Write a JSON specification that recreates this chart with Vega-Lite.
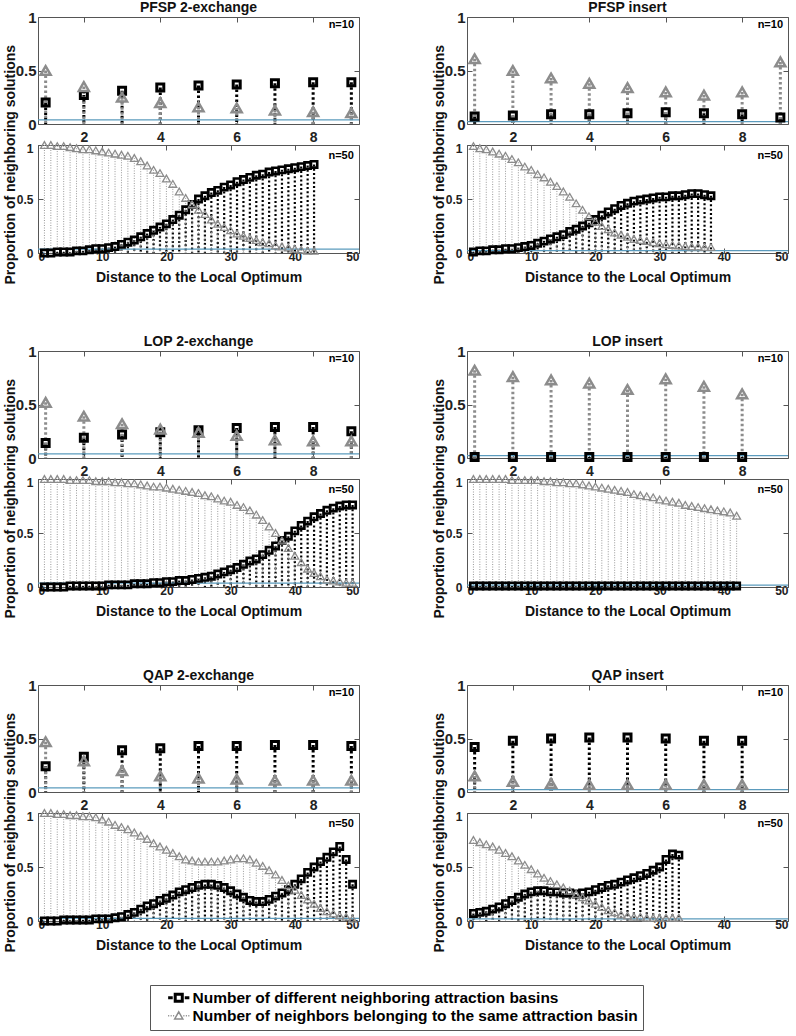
{
"$schema": "https://vega.github.io/schema/vega-lite/v6.json",
"padding": {"left": 3, "top": 0, "right": 5, "bottom": 5},
"config": {
  "font": "Liberation Sans",
  "view": {"stroke": "#555", "strokeWidth": 1},
  "title": {"fontSize": 14, "fontWeight": "bold", "color": "#111"},
  "axis": {"domain": false, "grid": false, "ticks": true, "tickSize": -5, "tickColor": "#555", "labelFontWeight": "bold", "labelColor": "#222", "titleFontWeight": "bold", "titleColor": "#111"}
},
"datasets": {
"pfsp2_10": [{"d":1,"diff":0.20,"same":0.50},{"d":2,"diff":0.27,"same":0.35},{"d":3,"diff":0.31,"same":0.25},{"d":4,"diff":0.34,"same":0.20},{"d":5,"diff":0.36,"same":0.16},{"d":6,"diff":0.37,"same":0.15},{"d":7,"diff":0.38,"same":0.13},{"d":8,"diff":0.39,"same":0.115},{"d":9,"diff":0.39,"same":0.105}],
"pfspi_10": [{"d":1,"diff":0.07,"same":0.61},{"d":2,"diff":0.08,"same":0.50},{"d":3,"diff":0.09,"same":0.43},{"d":4,"diff":0.09,"same":0.38},{"d":5,"diff":0.10,"same":0.34},{"d":6,"diff":0.11,"same":0.30},{"d":7,"diff":0.10,"same":0.27},{"d":8,"diff":0.09,"same":0.30},{"d":9,"diff":0.06,"same":0.58}],
"lop2_10": [{"d":1,"diff":0.14,"same":0.52},{"d":2,"diff":0.19,"same":0.39},{"d":3,"diff":0.22,"same":0.32},{"d":4,"diff":0.24,"same":0.27},{"d":5,"diff":0.26,"same":0.24},{"d":6,"diff":0.28,"same":0.21},{"d":7,"diff":0.29,"same":0.17},{"d":8,"diff":0.29,"same":0.16},{"d":9,"diff":0.25,"same":0.16}],
"lopi_10": [{"d":1,"diff":0.01,"same":0.82},{"d":2,"diff":0.01,"same":0.76},{"d":3,"diff":0.01,"same":0.73},{"d":4,"diff":0.01,"same":0.70},{"d":5,"diff":0.01,"same":0.64},{"d":6,"diff":0.01,"same":0.74},{"d":7,"diff":0.01,"same":0.67},{"d":8,"diff":0.01,"same":0.60}],
"qap2_10": [{"d":1,"diff":0.24,"same":0.47},{"d":2,"diff":0.33,"same":0.29},{"d":3,"diff":0.39,"same":0.20},{"d":4,"diff":0.41,"same":0.15},{"d":5,"diff":0.43,"same":0.13},{"d":6,"diff":0.43,"same":0.12},{"d":7,"diff":0.44,"same":0.11},{"d":8,"diff":0.44,"same":0.11},{"d":9,"diff":0.43,"same":0.11}],
"qapi_10": [{"d":1,"diff":0.42,"same":0.15},{"d":2,"diff":0.48,"same":0.10},{"d":3,"diff":0.50,"same":0.08},{"d":4,"diff":0.51,"same":0.07},{"d":5,"diff":0.51,"same":0.07},{"d":6,"diff":0.50,"same":0.07},{"d":7,"diff":0.48,"same":0.07},{"d":8,"diff":0.48,"same":0.07}],
"pfsp2_50": [{"d":1,"diff":0.00,"same":1.00},{"d":2,"diff":0.00,"same":1.00},{"d":3,"diff":0.01,"same":0.99},{"d":4,"diff":0.01,"same":0.99},{"d":5,"diff":0.01,"same":0.98},{"d":6,"diff":0.02,"same":0.97},{"d":7,"diff":0.02,"same":0.96},{"d":8,"diff":0.03,"same":0.96},{"d":9,"diff":0.04,"same":0.95},{"d":10,"diff":0.04,"same":0.94},{"d":11,"diff":0.05,"same":0.93},{"d":12,"diff":0.06,"same":0.92},{"d":13,"diff":0.08,"same":0.91},{"d":14,"diff":0.10,"same":0.90},{"d":15,"diff":0.12,"same":0.88},{"d":16,"diff":0.15,"same":0.85},{"d":17,"diff":0.18,"same":0.81},{"d":18,"diff":0.21,"same":0.77},{"d":19,"diff":0.24,"same":0.74},{"d":20,"diff":0.27,"same":0.69},{"d":21,"diff":0.31,"same":0.64},{"d":22,"diff":0.35,"same":0.57},{"d":23,"diff":0.40,"same":0.51},{"d":24,"diff":0.45,"same":0.45},{"d":25,"diff":0.50,"same":0.40},{"d":26,"diff":0.53,"same":0.36},{"d":27,"diff":0.56,"same":0.31},{"d":28,"diff":0.58,"same":0.27},{"d":29,"diff":0.61,"same":0.24},{"d":30,"diff":0.63,"same":0.21},{"d":31,"diff":0.66,"same":0.18},{"d":32,"diff":0.68,"same":0.16},{"d":33,"diff":0.70,"same":0.14},{"d":34,"diff":0.72,"same":0.12},{"d":35,"diff":0.73,"same":0.10},{"d":36,"diff":0.75,"same":0.09},{"d":37,"diff":0.76,"same":0.07},{"d":38,"diff":0.77,"same":0.06},{"d":39,"diff":0.78,"same":0.05},{"d":40,"diff":0.79,"same":0.04},{"d":41,"diff":0.80,"same":0.03},{"d":42,"diff":0.81,"same":0.02},{"d":43,"diff":0.82,"same":0.02}],
"pfspi_50": [{"d":1,"diff":0.01,"same":0.99},{"d":2,"diff":0.02,"same":0.97},{"d":3,"diff":0.02,"same":0.96},{"d":4,"diff":0.03,"same":0.94},{"d":5,"diff":0.03,"same":0.92},{"d":6,"diff":0.04,"same":0.90},{"d":7,"diff":0.04,"same":0.87},{"d":8,"diff":0.05,"same":0.84},{"d":9,"diff":0.06,"same":0.80},{"d":10,"diff":0.07,"same":0.77},{"d":11,"diff":0.09,"same":0.73},{"d":12,"diff":0.11,"same":0.70},{"d":13,"diff":0.13,"same":0.66},{"d":14,"diff":0.15,"same":0.62},{"d":15,"diff":0.17,"same":0.57},{"d":16,"diff":0.20,"same":0.52},{"d":17,"diff":0.22,"same":0.46},{"d":18,"diff":0.25,"same":0.40},{"d":19,"diff":0.28,"same":0.34},{"d":20,"diff":0.31,"same":0.29},{"d":21,"diff":0.35,"same":0.25},{"d":22,"diff":0.38,"same":0.22},{"d":23,"diff":0.41,"same":0.19},{"d":24,"diff":0.44,"same":0.17},{"d":25,"diff":0.46,"same":0.15},{"d":26,"diff":0.48,"same":0.13},{"d":27,"diff":0.49,"same":0.12},{"d":28,"diff":0.50,"same":0.11},{"d":29,"diff":0.51,"same":0.10},{"d":30,"diff":0.52,"same":0.09},{"d":31,"diff":0.52,"same":0.08},{"d":32,"diff":0.53,"same":0.075},{"d":33,"diff":0.53,"same":0.07},{"d":34,"diff":0.54,"same":0.065},{"d":35,"diff":0.55,"same":0.06},{"d":36,"diff":0.55,"same":0.06},{"d":37,"diff":0.54,"same":0.055},{"d":38,"diff":0.53,"same":0.055}],
"lop2_50": [{"d":1,"diff":0.00,"same":1.00},{"d":2,"diff":0.00,"same":1.00},{"d":3,"diff":0.00,"same":1.00},{"d":4,"diff":0.00,"same":1.00},{"d":5,"diff":0.01,"same":0.99},{"d":6,"diff":0.01,"same":0.99},{"d":7,"diff":0.01,"same":0.99},{"d":8,"diff":0.01,"same":0.99},{"d":9,"diff":0.01,"same":0.98},{"d":10,"diff":0.01,"same":0.98},{"d":11,"diff":0.02,"same":0.98},{"d":12,"diff":0.02,"same":0.97},{"d":13,"diff":0.02,"same":0.97},{"d":14,"diff":0.02,"same":0.96},{"d":15,"diff":0.03,"same":0.96},{"d":16,"diff":0.03,"same":0.95},{"d":17,"diff":0.03,"same":0.94},{"d":18,"diff":0.04,"same":0.93},{"d":19,"diff":0.04,"same":0.93},{"d":20,"diff":0.05,"same":0.92},{"d":21,"diff":0.05,"same":0.91},{"d":22,"diff":0.06,"same":0.90},{"d":23,"diff":0.06,"same":0.89},{"d":24,"diff":0.07,"same":0.88},{"d":25,"diff":0.08,"same":0.87},{"d":26,"diff":0.09,"same":0.85},{"d":27,"diff":0.10,"same":0.84},{"d":28,"diff":0.12,"same":0.82},{"d":29,"diff":0.14,"same":0.80},{"d":30,"diff":0.16,"same":0.79},{"d":31,"diff":0.18,"same":0.76},{"d":32,"diff":0.21,"same":0.74},{"d":33,"diff":0.24,"same":0.71},{"d":34,"diff":0.26,"same":0.67},{"d":35,"diff":0.30,"same":0.62},{"d":36,"diff":0.34,"same":0.56},{"d":37,"diff":0.38,"same":0.50},{"d":38,"diff":0.43,"same":0.43},{"d":39,"diff":0.47,"same":0.36},{"d":40,"diff":0.52,"same":0.29},{"d":41,"diff":0.57,"same":0.23},{"d":42,"diff":0.61,"same":0.17},{"d":43,"diff":0.65,"same":0.13},{"d":44,"diff":0.68,"same":0.10},{"d":45,"diff":0.71,"same":0.07},{"d":46,"diff":0.73,"same":0.06},{"d":47,"diff":0.75,"same":0.05},{"d":48,"diff":0.76,"same":0.04},{"d":49,"diff":0.76,"same":0.04}],
"lopi_50": [{"d":1,"diff":0.01,"same":1.00},{"d":2,"diff":0.01,"same":1.00},{"d":3,"diff":0.01,"same":1.00},{"d":4,"diff":0.01,"same":1.00},{"d":5,"diff":0.01,"same":1.00},{"d":6,"diff":0.01,"same":1.00},{"d":7,"diff":0.01,"same":0.99},{"d":8,"diff":0.01,"same":0.99},{"d":9,"diff":0.01,"same":0.99},{"d":10,"diff":0.01,"same":0.99},{"d":11,"diff":0.01,"same":0.99},{"d":12,"diff":0.01,"same":0.98},{"d":13,"diff":0.01,"same":0.98},{"d":14,"diff":0.01,"same":0.97},{"d":15,"diff":0.01,"same":0.97},{"d":16,"diff":0.01,"same":0.96},{"d":17,"diff":0.01,"same":0.96},{"d":18,"diff":0.01,"same":0.95},{"d":19,"diff":0.01,"same":0.94},{"d":20,"diff":0.01,"same":0.93},{"d":21,"diff":0.01,"same":0.92},{"d":22,"diff":0.01,"same":0.91},{"d":23,"diff":0.01,"same":0.90},{"d":24,"diff":0.01,"same":0.89},{"d":25,"diff":0.01,"same":0.88},{"d":26,"diff":0.01,"same":0.86},{"d":27,"diff":0.01,"same":0.85},{"d":28,"diff":0.01,"same":0.84},{"d":29,"diff":0.01,"same":0.83},{"d":30,"diff":0.01,"same":0.81},{"d":31,"diff":0.01,"same":0.80},{"d":32,"diff":0.01,"same":0.79},{"d":33,"diff":0.01,"same":0.78},{"d":34,"diff":0.01,"same":0.76},{"d":35,"diff":0.01,"same":0.75},{"d":36,"diff":0.01,"same":0.74},{"d":37,"diff":0.01,"same":0.73},{"d":38,"diff":0.01,"same":0.72},{"d":39,"diff":0.01,"same":0.71},{"d":40,"diff":0.01,"same":0.70},{"d":41,"diff":0.01,"same":0.69},{"d":42,"diff":0.01,"same":0.66}],
"qap2_50": [{"d":1,"diff":0.00,"same":1.00},{"d":2,"diff":0.00,"same":1.00},{"d":3,"diff":0.00,"same":0.99},{"d":4,"diff":0.01,"same":0.99},{"d":5,"diff":0.01,"same":0.98},{"d":6,"diff":0.01,"same":0.98},{"d":7,"diff":0.01,"same":0.97},{"d":8,"diff":0.01,"same":0.97},{"d":9,"diff":0.02,"same":0.96},{"d":10,"diff":0.02,"same":0.94},{"d":11,"diff":0.02,"same":0.92},{"d":12,"diff":0.03,"same":0.89},{"d":13,"diff":0.04,"same":0.87},{"d":14,"diff":0.06,"same":0.85},{"d":15,"diff":0.08,"same":0.82},{"d":16,"diff":0.11,"same":0.79},{"d":17,"diff":0.14,"same":0.76},{"d":18,"diff":0.16,"same":0.72},{"d":19,"diff":0.19,"same":0.69},{"d":20,"diff":0.21,"same":0.66},{"d":21,"diff":0.24,"same":0.63},{"d":22,"diff":0.27,"same":0.60},{"d":23,"diff":0.29,"same":0.57},{"d":24,"diff":0.31,"same":0.56},{"d":25,"diff":0.33,"same":0.55},{"d":26,"diff":0.34,"same":0.55},{"d":27,"diff":0.34,"same":0.55},{"d":28,"diff":0.33,"same":0.55},{"d":29,"diff":0.31,"same":0.56},{"d":30,"diff":0.28,"same":0.57},{"d":31,"diff":0.25,"same":0.58},{"d":32,"diff":0.22,"same":0.58},{"d":33,"diff":0.19,"same":0.57},{"d":34,"diff":0.18,"same":0.54},{"d":35,"diff":0.18,"same":0.51},{"d":36,"diff":0.20,"same":0.47},{"d":37,"diff":0.23,"same":0.43},{"d":38,"diff":0.26,"same":0.38},{"d":39,"diff":0.29,"same":0.33},{"d":40,"diff":0.34,"same":0.29},{"d":41,"diff":0.39,"same":0.24},{"d":42,"diff":0.45,"same":0.20},{"d":43,"diff":0.50,"same":0.16},{"d":44,"diff":0.55,"same":0.12},{"d":45,"diff":0.59,"same":0.09},{"d":46,"diff":0.64,"same":0.07},{"d":47,"diff":0.69,"same":0.05},{"d":48,"diff":0.57,"same":0.04},{"d":49,"diff":0.34,"same":0.02}],
"qapi_50": [{"d":1,"diff":0.07,"same":0.75},{"d":2,"diff":0.08,"same":0.73},{"d":3,"diff":0.09,"same":0.71},{"d":4,"diff":0.11,"same":0.69},{"d":5,"diff":0.13,"same":0.66},{"d":6,"diff":0.16,"same":0.63},{"d":7,"diff":0.19,"same":0.60},{"d":8,"diff":0.22,"same":0.56},{"d":9,"diff":0.25,"same":0.52},{"d":10,"diff":0.27,"same":0.48},{"d":11,"diff":0.28,"same":0.44},{"d":12,"diff":0.28,"same":0.40},{"d":13,"diff":0.27,"same":0.37},{"d":14,"diff":0.27,"same":0.34},{"d":15,"diff":0.26,"same":0.31},{"d":16,"diff":0.26,"same":0.28},{"d":17,"diff":0.25,"same":0.25},{"d":18,"diff":0.26,"same":0.22},{"d":19,"diff":0.27,"same":0.19},{"d":20,"diff":0.29,"same":0.16},{"d":21,"diff":0.31,"same":0.13},{"d":22,"diff":0.33,"same":0.10},{"d":23,"diff":0.34,"same":0.08},{"d":24,"diff":0.36,"same":0.06},{"d":25,"diff":0.38,"same":0.05},{"d":26,"diff":0.40,"same":0.04},{"d":27,"diff":0.42,"same":0.04},{"d":28,"diff":0.44,"same":0.03},{"d":29,"diff":0.47,"same":0.03},{"d":30,"diff":0.50,"same":0.03},{"d":31,"diff":0.57,"same":0.03},{"d":32,"diff":0.62,"same":0.03},{"d":33,"diff":0.61,"same":0.03}]
},
"spacing": 49,
"vconcat": [
{"hconcat": [
 {"title": {"text": "Proportion of neighboring solutions", "orient": "left", "fontSize": 14, "offset": -3},
  "spacing": -8, "vconcat": [
  {"width": 321, "height": 107, "title": {"text": "PFSP 2-exchange", "fontSize": 14, "offset": -4.5, "frame": "group"}, "resolve": {"axis": {"x": "independent", "y": "independent"}},
   "layer": [
    {"data": {"name": "pfsp2_10"}, "mark": {"type": "rule", "color": "#000", "strokeWidth": 3, "strokeDash": [2.5, 2.5]},
     "encoding": {"x": {"field": "d", "type": "quantitative", "scale": {"domain": [0.8, 9.2], "zero": false, "nice": false}, "axis": {"orient": "bottom", "values": [2,4,6,8], "title": null, "labelFontSize": 14, "labelPadding": 11}},
      "y": {"field": "diff", "type": "quantitative", "scale": {"domain": [0, 1]}, "axis": {"orient": "left", "values": [0,0.5,1], "format": "~g", "labelFontSize": 15, "labelPadding": 7, "title": null}},
      "y2": {"datum": 0}}},
    {"data": {"name": "pfsp2_10"}, "mark": {"type": "rule", "color": "#8c8c8c", "strokeWidth": 3, "strokeDash": [2.5, 2.5]},
     "encoding": {"x": {"field": "d", "type": "quantitative", "axis": {"orient": "top", "values": [2,4,6,8], "labels": false, "title": null}},
      "y": {"field": "same", "type": "quantitative", "axis": {"orient": "right", "values": [0,0.5,1], "labels": false, "title": null}}, "y2": {"datum": 0}}},
    {"data": {"values": [{"base": 0.038}]}, "mark": {"type": "rule", "color": "#5b9bbd", "strokeWidth": 1.2}, "encoding": {"y": {"field": "base", "type": "quantitative", "axis": null}}},
    {"data": {"name": "pfsp2_10"}, "mark": {"type": "point", "shape": "square", "filled": false, "stroke": "#000", "strokeWidth": 3, "size": 49, "opacity": 1},
     "encoding": {"x": {"field": "d", "type": "quantitative", "axis": null}, "y": {"field": "diff", "type": "quantitative", "axis": null}}},
    {"data": {"name": "pfsp2_10"}, "mark": {"type": "point", "shape": "triangle-up", "filled": false, "stroke": "#8c8c8c", "strokeWidth": 2.5, "size": 100, "opacity": 1},
     "encoding": {"x": {"field": "d", "type": "quantitative", "axis": null}, "y": {"field": "same", "type": "quantitative", "axis": null}}},
    {"data": {"values": [{"label": "n=10"}]}, "mark": {"type": "text", "align": "right", "baseline": "middle", "fontWeight": "bold", "fontSize": 11},
     "encoding": {"x": {"datum": 9.07, "type": "quantitative", "axis": null}, "y": {"datum": 0.925, "type": "quantitative", "axis": null}, "text": {"field": "label"}}}
   ]},
  {"width": 321, "height": 108, "resolve": {"axis": {"x": "independent", "y": "independent"}},
   "layer": [
    {"data": {"name": "pfsp2_50"}, "mark": {"type": "rule", "color": "#000", "strokeWidth": 2.2, "strokeDash": [2, 2.3]},
     "encoding": {"x": {"field": "d", "type": "quantitative", "scale": {"domain": [0, 50], "nice": false}, "axis": {"orient": "bottom", "values": [0,10,20,30,40,50], "title": "Distance to the Local Optimum", "titleFontSize": 14, "titlePadding": 8, "labelFontSize": 12, "labelPadding": 3}},
      "y": {"field": "diff", "type": "quantitative", "scale": {"domain": [0, 1]}, "axis": {"orient": "left", "values": [0,0.5,1], "format": "~g", "labelFontSize": 12, "labelPadding": 10, "labelOffset": {"condition": {"test": "datum.value == 1", "value": 3}, "value": 0}, "title": null}},
      "y2": {"datum": 0}}},
    {"data": {"name": "pfsp2_50"}, "mark": {"type": "rule", "color": "#999", "strokeWidth": 1, "strokeDash": [1, 1.5]},
     "encoding": {"x": {"field": "d", "type": "quantitative", "axis": {"orient": "top", "values": [0,10,20,30,40,50], "labels": false, "title": null}},
      "y": {"field": "same", "type": "quantitative", "axis": {"orient": "right", "values": [0,0.5,1], "labels": false, "title": null}}, "y2": {"datum": 0}}},
    {"data": {"values": [{"base": 0.035}]}, "mark": {"type": "rule", "color": "#5b9bbd", "strokeWidth": 1.2}, "encoding": {"y": {"field": "base", "type": "quantitative", "axis": null}}},
    {"data": {"name": "pfsp2_50"}, "mark": {"type": "point", "shape": "square", "filled": false, "stroke": "#000", "strokeWidth": 2.6, "size": 40, "opacity": 1},
     "encoding": {"x": {"field": "d", "type": "quantitative", "axis": null}, "y": {"field": "diff", "type": "quantitative", "axis": null}}},
    {"data": {"name": "pfsp2_50"}, "mark": {"type": "point", "shape": "triangle-up", "filled": false, "stroke": "#8c8c8c", "strokeWidth": 1.3, "size": 60, "opacity": 1},
     "encoding": {"x": {"field": "d", "type": "quantitative", "axis": null}, "y": {"field": "same", "type": "quantitative", "axis": null}}},
    {"data": {"values": [{"label": "n=50"}]}, "mark": {"type": "text", "align": "right", "baseline": "middle", "fontWeight": "bold", "fontSize": 11},
     "encoding": {"x": {"datum": 49.2, "type": "quantitative", "axis": null}, "y": {"datum": 0.9, "type": "quantitative", "axis": null}, "text": {"field": "label"}}}
   ]}
 ]},
 {"title": {"text": "Proportion of neighboring solutions", "orient": "left", "fontSize": 14, "offset": -3},
  "spacing": -8, "vconcat": [
  {"width": 321, "height": 107, "title": {"text": "PFSP insert", "fontSize": 14, "offset": -4.5, "frame": "group"}, "resolve": {"axis": {"x": "independent", "y": "independent"}},
   "layer": [
    {"data": {"name": "pfspi_10"}, "mark": {"type": "rule", "color": "#000", "strokeWidth": 3, "strokeDash": [2.5, 2.5]},
     "encoding": {"x": {"field": "d", "type": "quantitative", "scale": {"domain": [0.8, 9.2], "zero": false, "nice": false}, "axis": {"orient": "bottom", "values": [2,4,6,8], "title": null, "labelFontSize": 14, "labelPadding": 11}},
      "y": {"field": "diff", "type": "quantitative", "scale": {"domain": [0, 1]}, "axis": {"orient": "left", "values": [0,0.5,1], "format": "~g", "labelFontSize": 15, "labelPadding": 7, "title": null}},
      "y2": {"datum": 0}}},
    {"data": {"name": "pfspi_10"}, "mark": {"type": "rule", "color": "#8c8c8c", "strokeWidth": 3, "strokeDash": [2.5, 2.5]},
     "encoding": {"x": {"field": "d", "type": "quantitative", "axis": {"orient": "top", "values": [2,4,6,8], "labels": false, "title": null}},
      "y": {"field": "same", "type": "quantitative", "axis": {"orient": "right", "values": [0,0.5,1], "labels": false, "title": null}}, "y2": {"datum": 0}}},
    {"data": {"values": [{"base": 0.022}]}, "mark": {"type": "rule", "color": "#5b9bbd", "strokeWidth": 1.2}, "encoding": {"y": {"field": "base", "type": "quantitative", "axis": null}}},
    {"data": {"name": "pfspi_10"}, "mark": {"type": "point", "shape": "square", "filled": false, "stroke": "#000", "strokeWidth": 3, "size": 49, "opacity": 1},
     "encoding": {"x": {"field": "d", "type": "quantitative", "axis": null}, "y": {"field": "diff", "type": "quantitative", "axis": null}}},
    {"data": {"name": "pfspi_10"}, "mark": {"type": "point", "shape": "triangle-up", "filled": false, "stroke": "#8c8c8c", "strokeWidth": 2.5, "size": 100, "opacity": 1},
     "encoding": {"x": {"field": "d", "type": "quantitative", "axis": null}, "y": {"field": "same", "type": "quantitative", "axis": null}}},
    {"data": {"values": [{"label": "n=10"}]}, "mark": {"type": "text", "align": "right", "baseline": "middle", "fontWeight": "bold", "fontSize": 11},
     "encoding": {"x": {"datum": 9.07, "type": "quantitative", "axis": null}, "y": {"datum": 0.925, "type": "quantitative", "axis": null}, "text": {"field": "label"}}}
   ]},
  {"width": 321, "height": 108, "resolve": {"axis": {"x": "independent", "y": "independent"}},
   "layer": [
    {"data": {"name": "pfspi_50"}, "mark": {"type": "rule", "color": "#000", "strokeWidth": 2.2, "strokeDash": [2, 2.3]},
     "encoding": {"x": {"field": "d", "type": "quantitative", "scale": {"domain": [0, 50], "nice": false}, "axis": {"orient": "bottom", "values": [0,10,20,30,40,50], "title": "Distance to the Local Optimum", "titleFontSize": 14, "titlePadding": 8, "labelFontSize": 12, "labelPadding": 3}},
      "y": {"field": "diff", "type": "quantitative", "scale": {"domain": [0, 1]}, "axis": {"orient": "left", "values": [0,0.5,1], "format": "~g", "labelFontSize": 12, "labelPadding": 10, "labelOffset": {"condition": {"test": "datum.value == 1", "value": 3}, "value": 0}, "title": null}},
      "y2": {"datum": 0}}},
    {"data": {"name": "pfspi_50"}, "mark": {"type": "rule", "color": "#999", "strokeWidth": 1, "strokeDash": [1, 1.5]},
     "encoding": {"x": {"field": "d", "type": "quantitative", "axis": {"orient": "top", "values": [0,10,20,30,40,50], "labels": false, "title": null}},
      "y": {"field": "same", "type": "quantitative", "axis": {"orient": "right", "values": [0,0.5,1], "labels": false, "title": null}}, "y2": {"datum": 0}}},
    {"data": {"values": [{"base": 0.022}]}, "mark": {"type": "rule", "color": "#5b9bbd", "strokeWidth": 1.2}, "encoding": {"y": {"field": "base", "type": "quantitative", "axis": null}}},
    {"data": {"name": "pfspi_50"}, "mark": {"type": "point", "shape": "square", "filled": false, "stroke": "#000", "strokeWidth": 2.6, "size": 40, "opacity": 1},
     "encoding": {"x": {"field": "d", "type": "quantitative", "axis": null}, "y": {"field": "diff", "type": "quantitative", "axis": null}}},
    {"data": {"name": "pfspi_50"}, "mark": {"type": "point", "shape": "triangle-up", "filled": false, "stroke": "#8c8c8c", "strokeWidth": 1.3, "size": 60, "opacity": 1},
     "encoding": {"x": {"field": "d", "type": "quantitative", "axis": null}, "y": {"field": "same", "type": "quantitative", "axis": null}}},
    {"data": {"values": [{"label": "n=50"}]}, "mark": {"type": "text", "align": "right", "baseline": "middle", "fontWeight": "bold", "fontSize": 11},
     "encoding": {"x": {"datum": 49.2, "type": "quantitative", "axis": null}, "y": {"datum": 0.9, "type": "quantitative", "axis": null}, "text": {"field": "label"}}}
   ]}
 ]}
], "spacing": 70},
{"hconcat": [
 {"title": {"text": "Proportion of neighboring solutions", "orient": "left", "fontSize": 14, "offset": -3},
  "spacing": -8, "vconcat": [
  {"width": 321, "height": 107, "title": {"text": "LOP 2-exchange", "fontSize": 14, "offset": -4.5, "frame": "group"}, "resolve": {"axis": {"x": "independent", "y": "independent"}},
   "layer": [
    {"data": {"name": "lop2_10"}, "mark": {"type": "rule", "color": "#000", "strokeWidth": 3, "strokeDash": [2.5, 2.5]},
     "encoding": {"x": {"field": "d", "type": "quantitative", "scale": {"domain": [0.8, 9.2], "zero": false, "nice": false}, "axis": {"orient": "bottom", "values": [2,4,6,8], "title": null, "labelFontSize": 14, "labelPadding": 11}},
      "y": {"field": "diff", "type": "quantitative", "scale": {"domain": [0, 1]}, "axis": {"orient": "left", "values": [0,0.5,1], "format": "~g", "labelFontSize": 15, "labelPadding": 7, "title": null}},
      "y2": {"datum": 0}}},
    {"data": {"name": "lop2_10"}, "mark": {"type": "rule", "color": "#8c8c8c", "strokeWidth": 3, "strokeDash": [2.5, 2.5]},
     "encoding": {"x": {"field": "d", "type": "quantitative", "axis": {"orient": "top", "values": [2,4,6,8], "labels": false, "title": null}},
      "y": {"field": "same", "type": "quantitative", "axis": {"orient": "right", "values": [0,0.5,1], "labels": false, "title": null}}, "y2": {"datum": 0}}},
    {"data": {"values": [{"base": 0.038}]}, "mark": {"type": "rule", "color": "#5b9bbd", "strokeWidth": 1.2}, "encoding": {"y": {"field": "base", "type": "quantitative", "axis": null}}},
    {"data": {"name": "lop2_10"}, "mark": {"type": "point", "shape": "square", "filled": false, "stroke": "#000", "strokeWidth": 3, "size": 49, "opacity": 1},
     "encoding": {"x": {"field": "d", "type": "quantitative", "axis": null}, "y": {"field": "diff", "type": "quantitative", "axis": null}}},
    {"data": {"name": "lop2_10"}, "mark": {"type": "point", "shape": "triangle-up", "filled": false, "stroke": "#8c8c8c", "strokeWidth": 2.5, "size": 100, "opacity": 1},
     "encoding": {"x": {"field": "d", "type": "quantitative", "axis": null}, "y": {"field": "same", "type": "quantitative", "axis": null}}},
    {"data": {"values": [{"label": "n=10"}]}, "mark": {"type": "text", "align": "right", "baseline": "middle", "fontWeight": "bold", "fontSize": 11},
     "encoding": {"x": {"datum": 9.07, "type": "quantitative", "axis": null}, "y": {"datum": 0.925, "type": "quantitative", "axis": null}, "text": {"field": "label"}}}
   ]},
  {"width": 321, "height": 108, "resolve": {"axis": {"x": "independent", "y": "independent"}},
   "layer": [
    {"data": {"name": "lop2_50"}, "mark": {"type": "rule", "color": "#000", "strokeWidth": 2.2, "strokeDash": [2, 2.3]},
     "encoding": {"x": {"field": "d", "type": "quantitative", "scale": {"domain": [0, 50], "nice": false}, "axis": {"orient": "bottom", "values": [0,10,20,30,40,50], "title": "Distance to the Local Optimum", "titleFontSize": 14, "titlePadding": 8, "labelFontSize": 12, "labelPadding": 3}},
      "y": {"field": "diff", "type": "quantitative", "scale": {"domain": [0, 1]}, "axis": {"orient": "left", "values": [0,0.5,1], "format": "~g", "labelFontSize": 12, "labelPadding": 10, "labelOffset": {"condition": {"test": "datum.value == 1", "value": 3}, "value": 0}, "title": null}},
      "y2": {"datum": 0}}},
    {"data": {"name": "lop2_50"}, "mark": {"type": "rule", "color": "#999", "strokeWidth": 1, "strokeDash": [1, 1.5]},
     "encoding": {"x": {"field": "d", "type": "quantitative", "axis": {"orient": "top", "values": [0,10,20,30,40,50], "labels": false, "title": null}},
      "y": {"field": "same", "type": "quantitative", "axis": {"orient": "right", "values": [0,0.5,1], "labels": false, "title": null}}, "y2": {"datum": 0}}},
    {"data": {"values": [{"base": 0.035}]}, "mark": {"type": "rule", "color": "#5b9bbd", "strokeWidth": 1.2}, "encoding": {"y": {"field": "base", "type": "quantitative", "axis": null}}},
    {"data": {"name": "lop2_50"}, "mark": {"type": "point", "shape": "square", "filled": false, "stroke": "#000", "strokeWidth": 2.6, "size": 40, "opacity": 1},
     "encoding": {"x": {"field": "d", "type": "quantitative", "axis": null}, "y": {"field": "diff", "type": "quantitative", "axis": null}}},
    {"data": {"name": "lop2_50"}, "mark": {"type": "point", "shape": "triangle-up", "filled": false, "stroke": "#8c8c8c", "strokeWidth": 1.3, "size": 60, "opacity": 1},
     "encoding": {"x": {"field": "d", "type": "quantitative", "axis": null}, "y": {"field": "same", "type": "quantitative", "axis": null}}},
    {"data": {"values": [{"label": "n=50"}]}, "mark": {"type": "text", "align": "right", "baseline": "middle", "fontWeight": "bold", "fontSize": 11},
     "encoding": {"x": {"datum": 49.2, "type": "quantitative", "axis": null}, "y": {"datum": 0.9, "type": "quantitative", "axis": null}, "text": {"field": "label"}}}
   ]}
 ]},
 {"title": {"text": "Proportion of neighboring solutions", "orient": "left", "fontSize": 14, "offset": -3},
  "spacing": -8, "vconcat": [
  {"width": 321, "height": 107, "title": {"text": "LOP insert", "fontSize": 14, "offset": -4.5, "frame": "group"}, "resolve": {"axis": {"x": "independent", "y": "independent"}},
   "layer": [
    {"data": {"name": "lopi_10"}, "mark": {"type": "rule", "color": "#000", "strokeWidth": 3, "strokeDash": [2.5, 2.5]},
     "encoding": {"x": {"field": "d", "type": "quantitative", "scale": {"domain": [0.8, 9.2], "zero": false, "nice": false}, "axis": {"orient": "bottom", "values": [2,4,6,8], "title": null, "labelFontSize": 14, "labelPadding": 11}},
      "y": {"field": "diff", "type": "quantitative", "scale": {"domain": [0, 1]}, "axis": {"orient": "left", "values": [0,0.5,1], "format": "~g", "labelFontSize": 15, "labelPadding": 7, "title": null}},
      "y2": {"datum": 0}}},
    {"data": {"name": "lopi_10"}, "mark": {"type": "rule", "color": "#8c8c8c", "strokeWidth": 3, "strokeDash": [2.5, 2.5]},
     "encoding": {"x": {"field": "d", "type": "quantitative", "axis": {"orient": "top", "values": [2,4,6,8], "labels": false, "title": null}},
      "y": {"field": "same", "type": "quantitative", "axis": {"orient": "right", "values": [0,0.5,1], "labels": false, "title": null}}, "y2": {"datum": 0}}},
    {"data": {"values": [{"base": 0.022}]}, "mark": {"type": "rule", "color": "#5b9bbd", "strokeWidth": 1.2}, "encoding": {"y": {"field": "base", "type": "quantitative", "axis": null}}},
    {"data": {"name": "lopi_10"}, "mark": {"type": "point", "shape": "square", "filled": false, "stroke": "#000", "strokeWidth": 3, "size": 49, "opacity": 1},
     "encoding": {"x": {"field": "d", "type": "quantitative", "axis": null}, "y": {"field": "diff", "type": "quantitative", "axis": null}}},
    {"data": {"name": "lopi_10"}, "mark": {"type": "point", "shape": "triangle-up", "filled": false, "stroke": "#8c8c8c", "strokeWidth": 2.5, "size": 100, "opacity": 1},
     "encoding": {"x": {"field": "d", "type": "quantitative", "axis": null}, "y": {"field": "same", "type": "quantitative", "axis": null}}},
    {"data": {"values": [{"label": "n=10"}]}, "mark": {"type": "text", "align": "right", "baseline": "middle", "fontWeight": "bold", "fontSize": 11},
     "encoding": {"x": {"datum": 9.07, "type": "quantitative", "axis": null}, "y": {"datum": 0.925, "type": "quantitative", "axis": null}, "text": {"field": "label"}}}
   ]},
  {"width": 321, "height": 108, "resolve": {"axis": {"x": "independent", "y": "independent"}},
   "layer": [
    {"data": {"name": "lopi_50"}, "mark": {"type": "rule", "color": "#000", "strokeWidth": 2.2, "strokeDash": [2, 2.3]},
     "encoding": {"x": {"field": "d", "type": "quantitative", "scale": {"domain": [0, 50], "nice": false}, "axis": {"orient": "bottom", "values": [0,10,20,30,40,50], "title": "Distance to the Local Optimum", "titleFontSize": 14, "titlePadding": 8, "labelFontSize": 12, "labelPadding": 3}},
      "y": {"field": "diff", "type": "quantitative", "scale": {"domain": [0, 1]}, "axis": {"orient": "left", "values": [0,0.5,1], "format": "~g", "labelFontSize": 12, "labelPadding": 10, "labelOffset": {"condition": {"test": "datum.value == 1", "value": 3}, "value": 0}, "title": null}},
      "y2": {"datum": 0}}},
    {"data": {"name": "lopi_50"}, "mark": {"type": "rule", "color": "#999", "strokeWidth": 1, "strokeDash": [1, 1.5]},
     "encoding": {"x": {"field": "d", "type": "quantitative", "axis": {"orient": "top", "values": [0,10,20,30,40,50], "labels": false, "title": null}},
      "y": {"field": "same", "type": "quantitative", "axis": {"orient": "right", "values": [0,0.5,1], "labels": false, "title": null}}, "y2": {"datum": 0}}},
    {"data": {"values": [{"base": 0.018}]}, "mark": {"type": "rule", "color": "#5b9bbd", "strokeWidth": 1.2}, "encoding": {"y": {"field": "base", "type": "quantitative", "axis": null}}},
    {"data": {"name": "lopi_50"}, "mark": {"type": "point", "shape": "square", "filled": false, "stroke": "#000", "strokeWidth": 2.6, "size": 40, "opacity": 1},
     "encoding": {"x": {"field": "d", "type": "quantitative", "axis": null}, "y": {"field": "diff", "type": "quantitative", "axis": null}}},
    {"data": {"name": "lopi_50"}, "mark": {"type": "point", "shape": "triangle-up", "filled": false, "stroke": "#8c8c8c", "strokeWidth": 1.3, "size": 60, "opacity": 1},
     "encoding": {"x": {"field": "d", "type": "quantitative", "axis": null}, "y": {"field": "same", "type": "quantitative", "axis": null}}},
    {"data": {"values": [{"label": "n=50"}]}, "mark": {"type": "text", "align": "right", "baseline": "middle", "fontWeight": "bold", "fontSize": 11},
     "encoding": {"x": {"datum": 49.2, "type": "quantitative", "axis": null}, "y": {"datum": 0.9, "type": "quantitative", "axis": null}, "text": {"field": "label"}}}
   ]}
 ]}
], "spacing": 70},
{"hconcat": [
 {"title": {"text": "Proportion of neighboring solutions", "orient": "left", "fontSize": 14, "offset": -3},
  "spacing": -8, "vconcat": [
  {"width": 321, "height": 107, "title": {"text": "QAP 2-exchange", "fontSize": 14, "offset": -4.5, "frame": "group"}, "resolve": {"axis": {"x": "independent", "y": "independent"}},
   "layer": [
    {"data": {"name": "qap2_10"}, "mark": {"type": "rule", "color": "#000", "strokeWidth": 3, "strokeDash": [2.5, 2.5]},
     "encoding": {"x": {"field": "d", "type": "quantitative", "scale": {"domain": [0.8, 9.2], "zero": false, "nice": false}, "axis": {"orient": "bottom", "values": [2,4,6,8], "title": null, "labelFontSize": 14, "labelPadding": 11}},
      "y": {"field": "diff", "type": "quantitative", "scale": {"domain": [0, 1]}, "axis": {"orient": "left", "values": [0,0.5,1], "format": "~g", "labelFontSize": 15, "labelPadding": 7, "title": null}},
      "y2": {"datum": 0}}},
    {"data": {"name": "qap2_10"}, "mark": {"type": "rule", "color": "#8c8c8c", "strokeWidth": 3, "strokeDash": [2.5, 2.5]},
     "encoding": {"x": {"field": "d", "type": "quantitative", "axis": {"orient": "top", "values": [2,4,6,8], "labels": false, "title": null}},
      "y": {"field": "same", "type": "quantitative", "axis": {"orient": "right", "values": [0,0.5,1], "labels": false, "title": null}}, "y2": {"datum": 0}}},
    {"data": {"values": [{"base": 0.038}]}, "mark": {"type": "rule", "color": "#5b9bbd", "strokeWidth": 1.2}, "encoding": {"y": {"field": "base", "type": "quantitative", "axis": null}}},
    {"data": {"name": "qap2_10"}, "mark": {"type": "point", "shape": "square", "filled": false, "stroke": "#000", "strokeWidth": 3, "size": 49, "opacity": 1},
     "encoding": {"x": {"field": "d", "type": "quantitative", "axis": null}, "y": {"field": "diff", "type": "quantitative", "axis": null}}},
    {"data": {"name": "qap2_10"}, "mark": {"type": "point", "shape": "triangle-up", "filled": false, "stroke": "#8c8c8c", "strokeWidth": 2.5, "size": 100, "opacity": 1},
     "encoding": {"x": {"field": "d", "type": "quantitative", "axis": null}, "y": {"field": "same", "type": "quantitative", "axis": null}}},
    {"data": {"values": [{"label": "n=10"}]}, "mark": {"type": "text", "align": "right", "baseline": "middle", "fontWeight": "bold", "fontSize": 11},
     "encoding": {"x": {"datum": 9.07, "type": "quantitative", "axis": null}, "y": {"datum": 0.925, "type": "quantitative", "axis": null}, "text": {"field": "label"}}}
   ]},
  {"width": 321, "height": 108, "resolve": {"axis": {"x": "independent", "y": "independent"}},
   "layer": [
    {"data": {"name": "qap2_50"}, "mark": {"type": "rule", "color": "#000", "strokeWidth": 2.2, "strokeDash": [2, 2.3]},
     "encoding": {"x": {"field": "d", "type": "quantitative", "scale": {"domain": [0, 50], "nice": false}, "axis": {"orient": "bottom", "values": [0,10,20,30,40,50], "title": "Distance to the Local Optimum", "titleFontSize": 14, "titlePadding": 8, "labelFontSize": 12, "labelPadding": 3}},
      "y": {"field": "diff", "type": "quantitative", "scale": {"domain": [0, 1]}, "axis": {"orient": "left", "values": [0,0.5,1], "format": "~g", "labelFontSize": 12, "labelPadding": 10, "labelOffset": {"condition": {"test": "datum.value == 1", "value": 3}, "value": 0}, "title": null}},
      "y2": {"datum": 0}}},
    {"data": {"name": "qap2_50"}, "mark": {"type": "rule", "color": "#999", "strokeWidth": 1, "strokeDash": [1, 1.5]},
     "encoding": {"x": {"field": "d", "type": "quantitative", "axis": {"orient": "top", "values": [0,10,20,30,40,50], "labels": false, "title": null}},
      "y": {"field": "same", "type": "quantitative", "axis": {"orient": "right", "values": [0,0.5,1], "labels": false, "title": null}}, "y2": {"datum": 0}}},
    {"data": {"values": [{"base": 0.025}]}, "mark": {"type": "rule", "color": "#5b9bbd", "strokeWidth": 1.2}, "encoding": {"y": {"field": "base", "type": "quantitative", "axis": null}}},
    {"data": {"name": "qap2_50"}, "mark": {"type": "point", "shape": "square", "filled": false, "stroke": "#000", "strokeWidth": 2.6, "size": 40, "opacity": 1},
     "encoding": {"x": {"field": "d", "type": "quantitative", "axis": null}, "y": {"field": "diff", "type": "quantitative", "axis": null}}},
    {"data": {"name": "qap2_50"}, "mark": {"type": "point", "shape": "triangle-up", "filled": false, "stroke": "#8c8c8c", "strokeWidth": 1.3, "size": 60, "opacity": 1},
     "encoding": {"x": {"field": "d", "type": "quantitative", "axis": null}, "y": {"field": "same", "type": "quantitative", "axis": null}}},
    {"data": {"values": [{"label": "n=50"}]}, "mark": {"type": "text", "align": "right", "baseline": "middle", "fontWeight": "bold", "fontSize": 11},
     "encoding": {"x": {"datum": 49.2, "type": "quantitative", "axis": null}, "y": {"datum": 0.9, "type": "quantitative", "axis": null}, "text": {"field": "label"}}}
   ]}
 ]},
 {"title": {"text": "Proportion of neighboring solutions", "orient": "left", "fontSize": 14, "offset": -3},
  "spacing": -8, "vconcat": [
  {"width": 321, "height": 107, "title": {"text": "QAP insert", "fontSize": 14, "offset": -4.5, "frame": "group"}, "resolve": {"axis": {"x": "independent", "y": "independent"}},
   "layer": [
    {"data": {"name": "qapi_10"}, "mark": {"type": "rule", "color": "#000", "strokeWidth": 3, "strokeDash": [2.5, 2.5]},
     "encoding": {"x": {"field": "d", "type": "quantitative", "scale": {"domain": [0.8, 9.2], "zero": false, "nice": false}, "axis": {"orient": "bottom", "values": [2,4,6,8], "title": null, "labelFontSize": 14, "labelPadding": 11}},
      "y": {"field": "diff", "type": "quantitative", "scale": {"domain": [0, 1]}, "axis": {"orient": "left", "values": [0,0.5,1], "format": "~g", "labelFontSize": 15, "labelPadding": 7, "title": null}},
      "y2": {"datum": 0}}},
    {"data": {"name": "qapi_10"}, "mark": {"type": "rule", "color": "#8c8c8c", "strokeWidth": 3, "strokeDash": [2.5, 2.5]},
     "encoding": {"x": {"field": "d", "type": "quantitative", "axis": {"orient": "top", "values": [2,4,6,8], "labels": false, "title": null}},
      "y": {"field": "same", "type": "quantitative", "axis": {"orient": "right", "values": [0,0.5,1], "labels": false, "title": null}}, "y2": {"datum": 0}}},
    {"data": {"values": [{"base": 0.022}]}, "mark": {"type": "rule", "color": "#5b9bbd", "strokeWidth": 1.2}, "encoding": {"y": {"field": "base", "type": "quantitative", "axis": null}}},
    {"data": {"name": "qapi_10"}, "mark": {"type": "point", "shape": "square", "filled": false, "stroke": "#000", "strokeWidth": 3, "size": 49, "opacity": 1},
     "encoding": {"x": {"field": "d", "type": "quantitative", "axis": null}, "y": {"field": "diff", "type": "quantitative", "axis": null}}},
    {"data": {"name": "qapi_10"}, "mark": {"type": "point", "shape": "triangle-up", "filled": false, "stroke": "#8c8c8c", "strokeWidth": 2.5, "size": 100, "opacity": 1},
     "encoding": {"x": {"field": "d", "type": "quantitative", "axis": null}, "y": {"field": "same", "type": "quantitative", "axis": null}}},
    {"data": {"values": [{"label": "n=10"}]}, "mark": {"type": "text", "align": "right", "baseline": "middle", "fontWeight": "bold", "fontSize": 11},
     "encoding": {"x": {"datum": 9.07, "type": "quantitative", "axis": null}, "y": {"datum": 0.925, "type": "quantitative", "axis": null}, "text": {"field": "label"}}}
   ]},
  {"width": 321, "height": 108, "resolve": {"axis": {"x": "independent", "y": "independent"}},
   "layer": [
    {"data": {"name": "qapi_50"}, "mark": {"type": "rule", "color": "#000", "strokeWidth": 2.2, "strokeDash": [2, 2.3]},
     "encoding": {"x": {"field": "d", "type": "quantitative", "scale": {"domain": [0, 50], "nice": false}, "axis": {"orient": "bottom", "values": [0,10,20,30,40,50], "title": "Distance to the Local Optimum", "titleFontSize": 14, "titlePadding": 8, "labelFontSize": 12, "labelPadding": 3}},
      "y": {"field": "diff", "type": "quantitative", "scale": {"domain": [0, 1]}, "axis": {"orient": "left", "values": [0,0.5,1], "format": "~g", "labelFontSize": 12, "labelPadding": 10, "labelOffset": {"condition": {"test": "datum.value == 1", "value": 3}, "value": 0}, "title": null}},
      "y2": {"datum": 0}}},
    {"data": {"name": "qapi_50"}, "mark": {"type": "rule", "color": "#999", "strokeWidth": 1, "strokeDash": [1, 1.5]},
     "encoding": {"x": {"field": "d", "type": "quantitative", "axis": {"orient": "top", "values": [0,10,20,30,40,50], "labels": false, "title": null}},
      "y": {"field": "same", "type": "quantitative", "axis": {"orient": "right", "values": [0,0.5,1], "labels": false, "title": null}}, "y2": {"datum": 0}}},
    {"data": {"values": [{"base": 0.02}]}, "mark": {"type": "rule", "color": "#5b9bbd", "strokeWidth": 1.2}, "encoding": {"y": {"field": "base", "type": "quantitative", "axis": null}}},
    {"data": {"name": "qapi_50"}, "mark": {"type": "point", "shape": "square", "filled": false, "stroke": "#000", "strokeWidth": 2.6, "size": 40, "opacity": 1},
     "encoding": {"x": {"field": "d", "type": "quantitative", "axis": null}, "y": {"field": "diff", "type": "quantitative", "axis": null}}},
    {"data": {"name": "qapi_50"}, "mark": {"type": "point", "shape": "triangle-up", "filled": false, "stroke": "#8c8c8c", "strokeWidth": 1.3, "size": 60, "opacity": 1},
     "encoding": {"x": {"field": "d", "type": "quantitative", "axis": null}, "y": {"field": "same", "type": "quantitative", "axis": null}}},
    {"data": {"values": [{"label": "n=50"}]}, "mark": {"type": "text", "align": "right", "baseline": "middle", "fontWeight": "bold", "fontSize": 11},
     "encoding": {"x": {"datum": 49.2, "type": "quantitative", "axis": null}, "y": {"datum": 0.9, "type": "quantitative", "axis": null}, "text": {"field": "label"}}},
    {"data": {"values": []}, "mark": {"type": "point", "filled": false, "opacity": 1},
     "encoding": {
      "shape": {"datum": "Number of different neighboring attraction basins", "scale": {"domain": ["Number of different neighboring attraction basins", "Number of neighbors belonging to the same attraction basin"], "range": ["M-3,0H-1.7M-1,-1H1V1H-1ZM1.7,0H3", "M-3,0H-2.7M-2.3,0H-2M-1.6,0H-1.3M0,-1.1L1.15,0.9H-1.15ZM1.3,0H1.6M2,0H2.3M2.7,0H3"]},
       "legend": {"title": null, "orient": "none", "legendX": 112, "legendY": 968, "strokeColor": "#555", "fillColor": "white", "padding": 5, "labelFontSize": 15.5, "labelFontWeight": "bold", "labelColor": "#000", "labelLimit": 0, "symbolSize": 50, "symbolFillColor": "transparent", "symbolOpacity": 1, "symbolOffset": 16, "labelOffset": 6, "rowPadding": -3}},
      "stroke": {"datum": "Number of different neighboring attraction basins", "scale": {"domain": ["Number of different neighboring attraction basins", "Number of neighbors belonging to the same attraction basin"], "range": ["#000000", "#8c8c8c"]},
       "legend": {"title": null, "orient": "none", "legendX": 112, "legendY": 968, "strokeColor": "#555", "fillColor": "white", "padding": 5, "labelFontSize": 15.5, "labelFontWeight": "bold", "labelColor": "#000", "labelLimit": 0, "symbolSize": 50, "symbolFillColor": "transparent", "symbolOpacity": 1, "symbolOffset": 16, "labelOffset": 6, "rowPadding": -3}},
      "strokeWidth": {"datum": "Number of different neighboring attraction basins", "scale": {"domain": ["Number of different neighboring attraction basins", "Number of neighbors belonging to the same attraction basin"], "range": [3, 1.5], "padding": 0},
       "legend": {"title": null, "orient": "none", "legendX": 112, "legendY": 968, "strokeColor": "#555", "fillColor": "white", "padding": 5, "labelFontSize": 15.5, "labelFontWeight": "bold", "labelColor": "#000", "labelLimit": 0, "symbolSize": 50, "symbolFillColor": "transparent", "symbolOpacity": 1, "symbolOffset": 16, "labelOffset": 6, "rowPadding": -3}}}}
   ]}
 ]}
], "spacing": 70}
]
}
